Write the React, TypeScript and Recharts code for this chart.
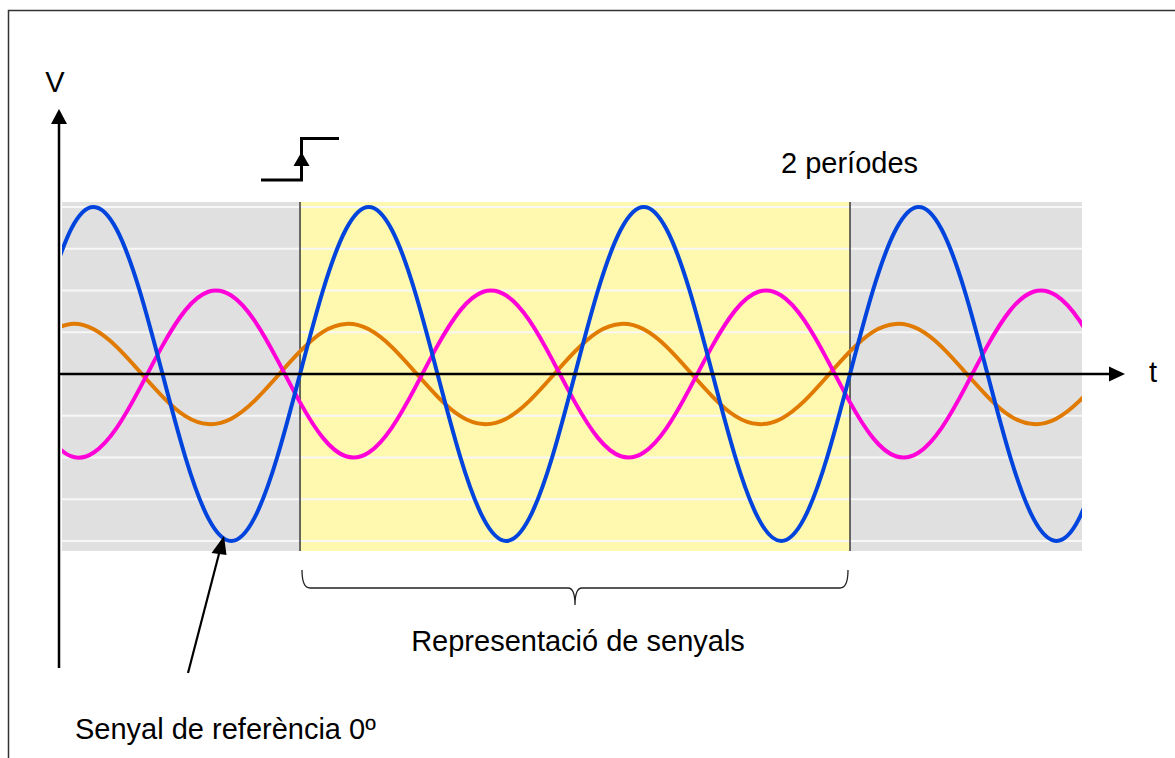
import { ComposedChart, Line, ReferenceArea, ReferenceLine, XAxis, YAxis } from 'recharts'

// phase angle (degrees); 0 = rising zero of the reference signal, 720 = two periods later
const ANGLES = [
  -330, -300, -270, -240, -210, -180, -150, -120, -90, -60, -30, 0,
  30, 60, 90, 120, 150, 180, 210, 240, 270, 300, 330, 360,
  390, 420, 450, 480, 510, 540, 570, 600, 630, 660, 690, 720,
  750, 780, 810, 840, 870, 900, 930, 960, 990, 1020, 1050,
]

// blue: reference signal 0º
const REFERENCE = [
  2, 3.46, 4, 3.46, 2, 0, -2, -3.46, -4, -3.46, -2, 0,
  2, 3.46, 4, 3.46, 2, 0, -2, -3.46, -4, -3.46, -2, 0,
  2, 3.46, 4, 3.46, 2, 0, -2, -3.46, -4, -3.46, -2, 0,
  2, 3.46, 4, 3.46, 2, 0, -2, -3.46, -4, -3.46, -2,
]

// magenta: inverted signal
const INVERTED = [
  -1.53, -1.97, -1.88, -1.29, -0.35, 0.68, 1.53, 1.97, 1.88, 1.29, 0.35, -0.68,
  -1.53, -1.97, -1.88, -1.29, -0.35, 0.68, 1.53, 1.97, 1.88, 1.29, 0.35, -0.68,
  -1.53, -1.97, -1.88, -1.29, -0.35, 0.68, 1.53, 1.97, 1.88, 1.29, 0.35, -0.68,
  -1.53, -1.97, -1.88, -1.29, -0.35, 0.68, 1.53, 1.97, 1.88, 1.29, 0.35,
]

// orange: small leading signal
const LEADING = [
  1.01, 1.2, 1.07, 0.65, 0.06, -0.54, -1.01, -1.2, -1.07, -0.65, -0.06, 0.54,
  1.01, 1.2, 1.07, 0.65, 0.06, -0.54, -1.01, -1.2, -1.07, -0.65, -0.06, 0.54,
  1.01, 1.2, 1.07, 0.65, 0.06, -0.54, -1.01, -1.2, -1.07, -0.65, -0.06, 0.54,
  1.01, 1.2, 1.07, 0.65, 0.06, -0.54, -1.01, -1.2, -1.07, -0.65, -0.06,
]

const GRID_LEVELS = [-4, -3, -2, -1, 0, 1, 2, 3, 4]
const X_DOMAIN = [-311.6, 1023.7]
const Y_DOMAIN = [-4.24, 4.12]
const WINDOW = [0, 720]

const FONT = '"Liberation Sans", Arial, sans-serif'

const rows = ANGLES.map((t, i) => ({
  t,
  reference: REFERENCE[i],
  inverted: INVERTED[i],
  leading: LEADING[i],
}))

function Annotations() {
  return (
    <svg
      width={1175}
      height={758}
      style={{ position: 'absolute', left: 0, top: 0, pointerEvents: 'none' }}
    >
      {/* frame */}
      <rect x={8.5} y={10.5} width={1200} height={800} fill="none" stroke="#333" strokeWidth={1.5} />

      {/* V axis */}
      <line x1={59} y1={668} x2={59} y2={122} stroke="#000" strokeWidth={2.5} />
      <polygon points="59,109 51,124 67,124" fill="#000" />
      <text x={55} y={92} fontFamily={FONT} fontSize={29} textAnchor="middle">V</text>

      {/* t axis */}
      <line x1={58} y1={374} x2={1111} y2={374} stroke="#000" strokeWidth={2.5} />
      <polygon points="1125,374 1109,366.5 1109,381.5" fill="#000" />
      <text x={1153} y={382} fontFamily={FONT} fontSize={29} textAnchor="middle">t</text>

      {/* trigger step */}
      <polyline
        points="261,180 301.5,180 301.5,138.5 339,138.5"
        fill="none"
        stroke="#000"
        strokeWidth={3}
      />
      <polygon points="301.5,152 293.5,166 309.5,166" fill="#000" />

      <text x={781} y={173} fontFamily={FONT} fontSize={29}>2 períodes</text>

      {/* bracket */}
      <path
        d="M302,570 Q302,588 310,588 L568,588 Q575,588 575,605 Q575,588 582,588 L840,588 Q848,588 848,570"
        fill="none"
        stroke="#222"
        strokeWidth={1.3}
      />
      <text x={578} y={651} fontFamily={FONT} fontSize={29} textAnchor="middle">
        Representació de senyals
      </text>

      {/* pointer */}
      <line x1={188} y1={673} x2={220} y2={550} stroke="#000" strokeWidth={2.2} />
      <polygon points="224,536 211.5,553 226.5,555" fill="#000" />
      <text x={75} y={739} fontFamily={FONT} fontSize={29}>Senyal de referència 0º</text>
    </svg>
  )
}

export default function App() {
  return (
    <div style={{ position: 'absolute', left: 0, top: 0, width: 1175, height: 758, background: '#fff' }}>
      <ComposedChart
        width={1175}
        height={758}
        data={rows}
        margin={{ top: 202, right: 93, bottom: 207, left: 62 }}
      >
        <XAxis dataKey="t" type="number" domain={X_DOMAIN} allowDataOverflow hide />
        <YAxis type="number" domain={Y_DOMAIN} allowDataOverflow hide />
        <ReferenceArea x1={X_DOMAIN[0]} x2={X_DOMAIN[1]} y1={Y_DOMAIN[0]} y2={Y_DOMAIN[1]} fill="#e0e0e0" fillOpacity={1} stroke="none" />
        <ReferenceArea x1={WINDOW[0]} x2={WINDOW[1]} y1={Y_DOMAIN[0]} y2={Y_DOMAIN[1]} fill="#fff9b0" fillOpacity={1} stroke="none" />
        {GRID_LEVELS.map((v) => (
          <ReferenceLine key={v} y={v} stroke="#f7f7f7" strokeWidth={2} />
        ))}
        {WINDOW.map((x) => (
          <ReferenceLine key={x} x={x} stroke="#3a3a3a" strokeWidth={1.5} />
        ))}
        <Line type="natural" dataKey="leading" stroke="#e07a00" strokeWidth={4} dot={false} isAnimationActive={false} />
        <Line type="natural" dataKey="inverted" stroke="#ff00d8" strokeWidth={4} dot={false} isAnimationActive={false} />
        <Line type="natural" dataKey="reference" stroke="#0044dd" strokeWidth={4} dot={false} isAnimationActive={false} />
      </ComposedChart>
      <Annotations />
    </div>
  )
}
